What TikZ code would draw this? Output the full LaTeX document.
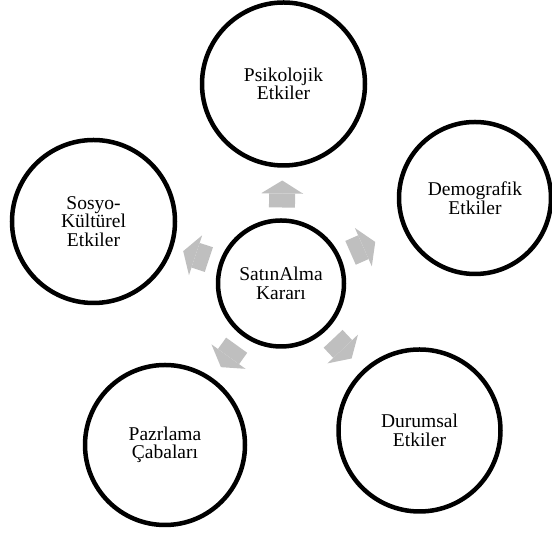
\documentclass[tikz,border=0pt]{standalone}
\usepackage{fontspec}
\setmainfont{Liberation Serif}
\usetikzlibrary{calc}
\usetikzlibrary{arrows.meta}
\definecolor{arrowgray}{RGB}{191,191,191}

\begin{document}
\begin{tikzpicture}[x=1pt,y=1pt,%
    factor/.style={circle, draw=black, line width=4.5pt, inner sep=0pt,
      align=center, font=\fontsize{19.5}{18.5}\selectfont},
    flow/.style={draw=arrowgray, line width=26pt,
      -{Triangle[width=42pt,length=13pt,line width=0pt]}}]
    \useasboundingbox (0,0) rectangle (552,534);
    \node[factor, minimum size=126pt] (karar) at (281,250.5) {SatınAlma\\Kararı};
    \node[factor, minimum size=163pt] (psiko) at (283.5,450) {Psikolojik\\Etkiler};
    \node[factor, minimum size=152pt] (demo) at (475,336) {Demografik\\Etkiler};
    \node[factor, minimum size=162pt] (durum) at (419.5,103.5) {Durumsal\\Etkiler};
    \node[factor, minimum size=160pt] (pazar) at (165,89) {Pazrlama\\Çabaları};
    \node[factor, minimum size=163pt] (sosyo) at (93.5,312.5) {Sosyo-\\Kültürel\\Etkiler};
    \foreach \target in {psiko,demo,durum,pazar,sosyo}
      \draw[flow] ($(karar.center)!76pt!(\target.center)$) -- ($(karar.center)!103pt!(\target.center)$);
\end{tikzpicture}
\end{document}
